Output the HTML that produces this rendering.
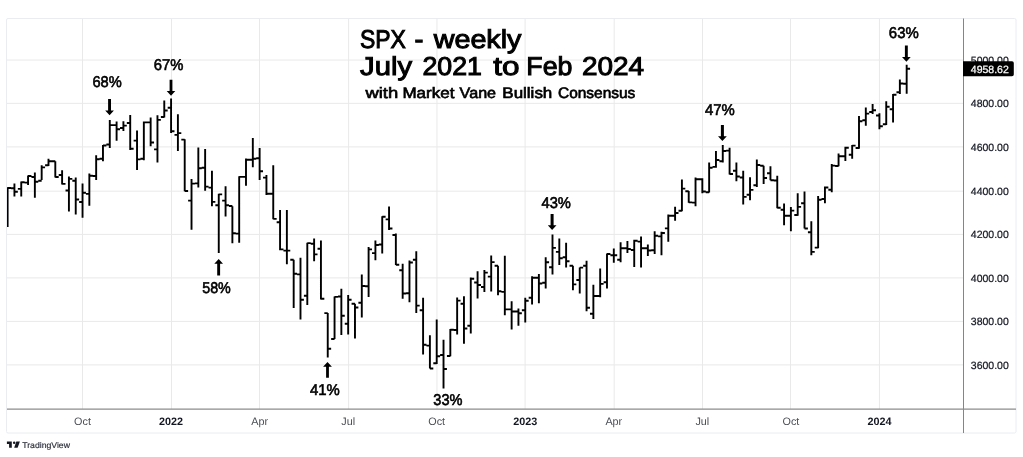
<!DOCTYPE html><html><head><meta charset="utf-8"><style>
html,body{margin:0;padding:0;background:#fff;width:1023px;height:457px;overflow:hidden}
svg{display:block;will-change:transform}
text{font-family:"Liberation Sans",sans-serif;text-rendering:geometricPrecision}
</style></head><body>
<svg width="1023" height="457" viewBox="0 0 1023 457">
<rect width="1023" height="457" fill="#fff"/>
<rect x="6.5" y="18.5" width="1009.5" height="414.5" rx="1.5" fill="none" stroke="#eaecf1" stroke-width="1"/>
<path d="M7 364.90H963 M7 321.38H963 M7 277.90H963 M7 234.38H963 M7 191.20H963 M7 146.90H963 M7 103.37H963 M7 60.04H963" stroke="#e9e9e9" stroke-width="1" fill="none"/>
<path d="M82.54 19V409 M171.49 19V409 M259.52 19V409 M348.61 19V409 M436.94 19V409 M525.10 19V409 M614.20 19V409 M702.50 19V409 M790.52 19V409 M879.44 19V409" stroke="#e9e9e9" stroke-width="1" fill="none"/>
<path d="M963.5 18.5V433" stroke="#858585" stroke-width="1" fill="none"/>
<path d="M7 409.1H1016" stroke="#8c8c8c" stroke-width="1.3" fill="none"/>
<defs><clipPath id="cp"><rect x="7" y="19" width="956" height="390"/></clipPath></defs>
<g clip-path="url(#cp)"><path d="M7.62 187.3V227.1M4.22 213.8H7.62M7.62 188.0H11.02M14.43 183.5V196.4M11.03 188.3H14.43M14.43 191.8H17.83M21.24 181.4V196.4M17.84 188.9H21.24M21.24 182.3H24.64M28.05 175.5V185.1M24.65 182.6H28.05M28.05 176.0H31.45M34.86 172.4V197.7M31.46 177.0H34.86M34.86 181.8H38.26M41.67 165.3V180.1M38.27 180.8H41.67M41.67 167.4H45.07M48.49 158.7V166.0M45.09 165.3H48.49M48.49 161.2H51.89M55.30 161.2V177.6M51.90 161.2H55.30M55.30 177.0H58.70M62.11 170.3V184.5M58.71 175.0H62.11M62.11 183.9H65.51M68.92 176.4V211.4M65.52 190.5H68.92M68.92 178.9H72.32M75.73 177.6V214.6M72.33 180.8H75.73M75.73 199.5H79.13M82.54 183.5V217.7M79.14 202.0H82.54M82.54 192.7H85.94M89.35 173.5V205.8M85.95 193.9H89.35M89.35 175.8H92.75M96.16 155.2V180.1M92.76 176.0H96.16M96.16 159.3H99.56M102.97 144.9V161.2M99.57 158.7H102.97M102.97 145.5H106.37M109.78 120.1V148.0M106.38 144.5H109.78M109.78 125.1H113.19M116.60 121.6V140.7M113.20 125.1H116.60M116.60 129.3H120.00M123.41 121.3V131.1M120.01 128.0H123.41M123.41 125.6H126.81M130.22 114.9V150.0M126.82 123.0H130.22M130.22 148.8H133.62M137.03 130.6V170.0M133.63 140.6H137.03M137.03 159.4H140.43M143.84 121.5V160.3M140.44 158.8H143.84M143.84 122.4H147.24M150.65 117.4V146.3M147.25 122.4H150.65M150.65 142.5H154.05M157.46 115.3V162.5M154.06 149.4H157.46M157.46 119.9H160.86M164.27 100.5V117.4M160.87 117.0H164.27M164.27 110.5H167.67M171.08 98.6V133.0M167.68 107.8H171.08M171.08 131.2H174.48M177.90 114.3V151.0M174.50 134.9H177.90M177.90 133.1H181.30M184.71 139.3V191.3M181.31 139.6H184.71M184.71 191.0H188.11M191.52 178.9V229.8M188.12 200.6H191.52M191.52 183.6H194.92M198.33 147.5V187.6M194.93 183.4H198.33M198.33 168.2H201.73M205.14 149.0V190.7M201.74 167.8H205.14M205.14 186.6H208.54M211.95 170.7V206.3M208.55 187.6H211.95M211.95 201.9H215.35M218.76 193.8V253.1M215.36 205.3H218.76M218.76 194.4H222.16M225.57 186.3V216.5M222.17 200.6H225.57M225.57 205.3H228.97M232.38 206.3V243.3M228.98 206.0H232.38M232.38 233.2H235.78M239.19 176.3V242.7M235.79 233.6H239.19M239.19 176.9H242.59M246.00 158.5V185.7M242.60 176.9H246.00M246.00 159.8H249.41M252.82 138.1V167.3M249.42 159.8H252.82M252.82 158.8H256.22M259.63 148.1V180.0M256.23 158.2H259.63M259.63 171.3H263.03M266.44 175.0V195.0M263.04 177.6H266.44M266.44 193.8H269.84M273.25 165.3V219.2M269.85 193.8H273.25M273.25 218.9H276.65M280.06 210.0V250.3M276.66 222.3H280.06M280.06 249.4H283.46M286.87 210.0V264.2M283.47 250.6H286.87M286.87 250.6H290.27M293.68 259.8V308.1M290.28 259.8H293.68M293.68 273.8H297.08M300.49 257.8V319.4M297.09 274.4H300.49M300.49 299.8H303.89M307.30 242.8V305.0M303.90 295.7H307.30M307.30 243.1H310.70M314.12 238.6V261.3M310.72 243.8H314.12M314.12 254.4H317.51M320.93 240.5V299.4M317.53 248.8H320.93M320.93 298.8H324.33M327.74 313.1V357.5M324.34 313.1H327.74M327.74 348.8H331.14M334.55 296.5V339.0M331.15 339.0H334.55M334.55 296.9H337.95M341.36 288.8V335.0M337.96 296.5H341.36M341.36 315.7H344.76M348.17 295.0V334.4M344.77 323.8H348.17M348.17 299.8H351.57M354.98 303.8V338.6M351.58 303.8H354.98M354.98 307.5H358.38M361.79 274.4V317.5M358.39 302.8H361.79M361.79 286.0H365.19M368.60 246.9V296.9M365.20 286.3H368.60M368.60 249.4H372.00M375.41 240.4V260.3M372.01 253.1H375.41M375.41 245.0H378.81M382.23 216.3V253.6M378.83 244.5H382.23M382.23 216.8H385.62M389.04 206.5V230.0M385.64 219.4H389.04M389.04 228.5H392.44M395.85 233.5V265.0M392.45 235.0H395.85M395.85 264.8H399.25M402.66 263.8V298.8M399.26 270.3H402.66M402.66 293.5H406.06M409.47 260.6V302.3M406.07 293.2H409.47M409.47 262.5H412.87M416.28 251.3V313.1M412.88 259.8H416.28M416.28 305.6H419.68M423.09 297.8V354.4M419.69 310.3H423.09M423.09 344.8H426.49M429.90 335.3V368.5M426.50 345.6H429.90M429.90 368.5H433.30M436.71 319.4V364.0M433.31 363.2H436.71M436.71 356.3H440.11M443.52 339.8V388.6M440.12 355.0H443.52M443.52 369.0H446.92M450.33 329.0V356.3M446.94 356.0H450.33M450.33 329.8H453.73M457.15 297.6V334.4M453.75 330.0H457.15M457.15 300.6H460.55M463.96 296.3V343.8M460.56 303.8H463.96M463.96 328.5H467.36M470.77 277.5V333.5M467.37 325.7H470.77M470.77 278.8H474.17M477.58 271.3V298.6M474.18 282.5H477.58M477.58 285.0H480.98M484.39 270.0V292.0M480.99 287.0H484.39M484.39 272.6H487.79M491.20 255.6V291.4M487.80 276.6H491.20M491.20 262.1H494.60M498.01 265.7V295.3M494.61 265.7H498.01M498.01 291.3H501.41M504.82 255.7V315.3M501.42 291.9H504.82M504.82 309.4H508.22M511.63 301.3V329.4M508.23 309.4H511.63M511.63 311.5H515.03M518.44 308.5V325.7M515.04 311.5H518.44M518.44 313.2H521.84M525.26 297.8V322.6M521.86 310.3H525.26M525.26 300.7H528.66M532.07 276.3V304.4M528.67 297.8H532.07M532.07 277.8H535.47M538.88 274.0V303.2M535.48 277.8H538.88M538.88 283.5H542.28M545.69 257.3V288.5M542.29 282.8H545.69M545.69 262.3H549.09M552.50 234.4V274.4M549.10 267.3H552.50M552.50 247.9H555.90M559.31 238.5V265.0M555.91 251.9H559.31M559.31 258.2H562.71M566.12 242.8V267.6M562.72 257.3H566.12M566.12 261.3H569.52M572.93 265.7V290.3M569.53 265.7H572.93M572.93 284.4H576.33M579.74 267.6V293.5M576.34 280.0H579.74M579.74 267.6H583.14M586.55 260.7V311.3M583.15 265.7H586.55M586.55 307.8H589.95M593.37 284.8V319.0M589.97 313.8H593.37M593.37 296.0H596.77M600.18 268.5V297.3M596.78 296.0H600.18M600.18 283.9H603.58M606.99 253.5V288.4M603.59 282.3H606.99M606.99 254.0H610.39M613.80 248.5V262.8M610.40 255.3H613.80M613.80 255.3H617.20M620.61 242.3V262.3M617.21 259.8H620.61M620.61 248.2H624.01M627.42 241.0V253.1M624.02 248.2H627.42M627.42 249.0H630.82M634.23 239.8V266.9M630.83 250.0H634.23M634.23 240.8H637.63M641.04 236.6V267.5M637.64 241.6H641.04M641.04 248.2H644.44M647.85 244.4V256.0M644.45 248.2H647.85M647.85 250.5H651.25M654.66 231.3V254.0M651.26 250.2H654.66M654.66 235.7H658.06M661.48 231.7V255.3M658.08 236.4H661.48M661.48 233.0H664.88M668.29 214.6V241.8M664.89 228.4H668.29M668.29 215.7H671.69M675.10 206.7V220.8M671.70 215.7H675.10M675.10 213.0H678.50M681.91 179.5V211.2M678.51 210.8H681.91M681.91 188.6H685.31M688.72 191.1V202.8M685.32 191.3H688.72M688.72 202.4H692.12M695.53 177.4V206.2M692.13 202.6H695.53M695.53 179.2H698.93M702.34 178.3V193.2M698.94 179.2H702.34M702.34 191.5H705.74M709.15 162.5V192.6M705.75 192.3H709.15M709.15 167.8H712.55M715.96 151.0V167.8M712.56 166.9H715.96M715.96 160.0H719.36M722.77 145.0V162.5M719.38 161.3H722.77M722.77 151.0H726.17M729.59 147.8V174.4M726.19 150.6H729.59M729.59 174.0H732.99M736.40 162.5V181.3M733.00 170.7H736.40M736.40 176.5H739.80M743.21 170.7V204.4M739.81 177.5H743.21M743.21 196.9H746.61M750.02 177.3V200.3M746.62 194.8H750.02M750.02 189.9H753.42M756.83 159.4V187.0M753.43 185.2H756.83M756.83 165.0H760.23M763.64 165.7V184.0M760.24 165.7H763.64M763.64 178.0H767.04M770.45 166.2V180.3M767.05 173.2H770.45M770.45 180.2H773.85M777.26 175.7V208.2M773.86 180.5H777.26M777.26 207.8H780.66M784.07 203.5V225.3M780.67 209.8H784.07M784.07 215.7H787.47M790.88 206.9V231.3M787.49 215.7H790.88M790.88 210.6H794.28M797.70 193.2V215.7M794.30 215.0H797.70M797.70 206.9H801.10M804.51 191.6V228.5M801.11 203.3H804.51M804.51 228.5H807.91M811.32 221.3V255.3M807.92 232.3H811.32M811.32 251.9H814.72M818.13 196.0V248.2M814.73 247.6H818.13M818.13 199.7H821.53M824.94 186.5V203.2M821.54 199.0H824.94M824.94 187.5H828.34M831.75 164.0V192.3M828.35 189.8H831.75M831.75 165.6H835.15M838.56 153.5V166.3M835.16 166.0H838.56M838.56 156.3H841.96M845.37 146.8V161.0M841.97 156.3H845.37M845.37 147.8H848.77M852.18 145.0V158.8M848.78 154.8H852.18M852.18 145.6H855.58M859.00 116.1V148.7M855.60 148.0H859.00M859.00 121.2H862.39M865.81 107.4V125.8M862.41 120.3H865.81M865.81 113.6H869.21M872.62 104.0V114.0M869.22 112.0H872.62M872.62 110.3H876.02M879.43 113.3V129.3M876.03 115.5H879.43M879.43 126.2H882.83M886.24 101.3V124.9M882.84 124.3H886.24M886.24 106.8H889.64M893.05 94.0V122.4M889.65 109.3H893.05M893.05 94.8H896.45M899.86 79.4V94.0M896.46 92.3H899.86M899.86 83.5H903.26M906.67 64.8V93.8M903.27 83.8H906.67M906.67 68.8H910.07" stroke="#000" stroke-width="1.9" fill="none" stroke-linecap="butt"/></g>
<text x="1008.8" y="368.5" font-size="10.5" fill="#131722" stroke="#131722" stroke-width="0.2" text-anchor="end">3600.00</text>
<text x="1008.8" y="325.0" font-size="10.5" fill="#131722" stroke="#131722" stroke-width="0.2" text-anchor="end">3800.00</text>
<text x="1008.8" y="281.5" font-size="10.5" fill="#131722" stroke="#131722" stroke-width="0.2" text-anchor="end">4000.00</text>
<text x="1008.8" y="238.0" font-size="10.5" fill="#131722" stroke="#131722" stroke-width="0.2" text-anchor="end">4200.00</text>
<text x="1008.8" y="194.8" font-size="10.5" fill="#131722" stroke="#131722" stroke-width="0.2" text-anchor="end">4400.00</text>
<text x="1008.8" y="150.5" font-size="10.5" fill="#131722" stroke="#131722" stroke-width="0.2" text-anchor="end">4600.00</text>
<text x="1008.8" y="107.0" font-size="10.5" fill="#131722" stroke="#131722" stroke-width="0.2" text-anchor="end">4800.00</text>
<text x="1008.8" y="63.6" font-size="10.5" fill="#131722" stroke="#131722" stroke-width="0.2" text-anchor="end">5000.00</text>
<path d="M963 61.2H1012a1.8 1.8 0 0 1 1.8 1.8V74.5a1.8 1.8 0 0 1 -1.8 1.8H963Z" fill="#000"/>
<text x="1008.8" y="72.8" font-size="10.5" fill="#fff" stroke="#fff" stroke-width="0.25" text-anchor="end">4958.62</text>
<text x="82.5" y="424.5" font-size="10.8" fill="#4a4d56" text-anchor="middle">Oct</text>
<text x="171.1" y="424.5" font-size="10.8" fill="#131722" text-anchor="middle" font-weight="bold">2022</text>
<text x="259.6" y="424.5" font-size="10.8" fill="#4a4d56" text-anchor="middle">Apr</text>
<text x="348.2" y="424.5" font-size="10.8" fill="#4a4d56" text-anchor="middle">Jul</text>
<text x="436.7" y="424.5" font-size="10.8" fill="#4a4d56" text-anchor="middle">Oct</text>
<text x="525.3" y="424.5" font-size="10.8" fill="#131722" text-anchor="middle" font-weight="bold">2023</text>
<text x="613.8" y="424.5" font-size="10.8" fill="#4a4d56" text-anchor="middle">Apr</text>
<text x="702.3" y="424.5" font-size="10.8" fill="#4a4d56" text-anchor="middle">Jul</text>
<text x="790.9" y="424.5" font-size="10.8" fill="#4a4d56" text-anchor="middle">Oct</text>
<text x="879.4" y="424.5" font-size="10.8" fill="#131722" text-anchor="middle" font-weight="bold">2024</text>
<text x="360.01" y="48.00" font-size="25.9" fill="#000" stroke="#000" stroke-width="1.0" textLength="45.90" lengthAdjust="spacingAndGlyphs">SPX</text>
<text x="414.41" y="48.00" font-size="25.9" fill="#000" stroke="#000" stroke-width="1.0" textLength="8.90" lengthAdjust="spacingAndGlyphs">-</text>
<text x="433.67" y="48.00" font-size="25.9" fill="#000" stroke="#000" stroke-width="1.0" textLength="87.83" lengthAdjust="spacingAndGlyphs">weekly</text>
<text x="360.07" y="74.80" font-size="25.9" fill="#000" stroke="#000" stroke-width="1.0" textLength="52.00" lengthAdjust="spacingAndGlyphs">July</text>
<text x="422.44" y="74.80" font-size="25.9" fill="#000" stroke="#000" stroke-width="1.0" textLength="59.52" lengthAdjust="spacingAndGlyphs">2021</text>
<text x="493.33" y="74.80" font-size="25.9" fill="#000" stroke="#000" stroke-width="1.0" textLength="26.27" lengthAdjust="spacingAndGlyphs">to</text>
<text x="526.33" y="74.80" font-size="25.9" fill="#000" stroke="#000" stroke-width="1.0" textLength="46.07" lengthAdjust="spacingAndGlyphs">Feb</text>
<text x="581.90" y="74.80" font-size="25.9" fill="#000" stroke="#000" stroke-width="1.0" textLength="62.16" lengthAdjust="spacingAndGlyphs">2024</text>
<text x="365.41" y="97.80" font-size="15.2" fill="#000" stroke="#000" stroke-width="0.65" textLength="32.76" lengthAdjust="spacingAndGlyphs">with</text>
<text x="402.46" y="97.80" font-size="15.2" fill="#000" stroke="#000" stroke-width="0.65" textLength="51.95" lengthAdjust="spacingAndGlyphs">Market</text>
<text x="459.63" y="97.80" font-size="15.2" fill="#000" stroke="#000" stroke-width="0.65" textLength="36.45" lengthAdjust="spacingAndGlyphs">Vane</text>
<text x="502.34" y="97.80" font-size="15.2" fill="#000" stroke="#000" stroke-width="0.65" textLength="49.99" lengthAdjust="spacingAndGlyphs">Bullish</text>
<text x="557.97" y="97.80" font-size="15.2" fill="#000" stroke="#000" stroke-width="0.65" textLength="77.34" lengthAdjust="spacingAndGlyphs">Consensus</text>
<text x="92.39" y="86.94" font-size="15.6" fill="#000" stroke="#000" stroke-width="0.6" textLength="29.31" lengthAdjust="spacingAndGlyphs">68%</text>
<text x="153.76" y="70.27" font-size="15.6" fill="#000" stroke="#000" stroke-width="0.6" textLength="29.60" lengthAdjust="spacingAndGlyphs">67%</text>
<text x="202.20" y="293.08" font-size="15.6" fill="#000" stroke="#000" stroke-width="0.6" textLength="28.59" lengthAdjust="spacingAndGlyphs">58%</text>
<text x="310.01" y="394.58" font-size="15.6" fill="#000" stroke="#000" stroke-width="0.6" textLength="29.78" lengthAdjust="spacingAndGlyphs">41%</text>
<text x="433.35" y="404.79" font-size="15.6" fill="#000" stroke="#000" stroke-width="0.6" textLength="29.14" lengthAdjust="spacingAndGlyphs">33%</text>
<text x="541.48" y="207.94" font-size="15.6" fill="#000" stroke="#000" stroke-width="0.6" textLength="29.41" lengthAdjust="spacingAndGlyphs">43%</text>
<text x="705.01" y="114.86" font-size="15.6" fill="#000" stroke="#000" stroke-width="0.6" textLength="29.78" lengthAdjust="spacingAndGlyphs">47%</text>
<text x="888.86" y="38.39" font-size="15.6" fill="#000" stroke="#000" stroke-width="0.6" textLength="29.89" lengthAdjust="spacingAndGlyphs">63%</text>
<path d="M108.1 98.9H111.0V110.5H113.9L109.6 115.3L105.2 110.5H108.1ZM169.6 79.7H172.4V91.0H175.3L171.0 95.8L166.7 91.0H169.6ZM217.2 275.5H220.1V263.7H223.0L218.7 258.9L214.3 263.7H217.2ZM326.1 377.8H328.9V366.7H331.9L327.5 361.9L323.1 366.7H326.1ZM550.6 214.1H553.6V225.2H556.5L552.1 230.0L547.8 225.2H550.6ZM720.9 124.9H723.9V136.3H726.8L722.4 141.1L718.0 136.3H720.9ZM904.9 45.4H907.8V57.0H910.7L906.4 61.8L902.0 57.0H904.9Z" fill="#000"/>
<g fill="#131722"><path d="M6.9 441.4H11.8V447.8H9.1V444H6.9Z"/><circle cx="14.2" cy="442.7" r="1.25"/><path d="M16.3 441.4H19.9L17.6 447.8H14.2Z"/></g>
<text x="22.2" y="447.9" font-size="8.3" fill="#2a2e39" stroke="#2a2e39" stroke-width="0.15" textLength="47.8" lengthAdjust="spacingAndGlyphs">TradingView</text>
</svg></body></html>
